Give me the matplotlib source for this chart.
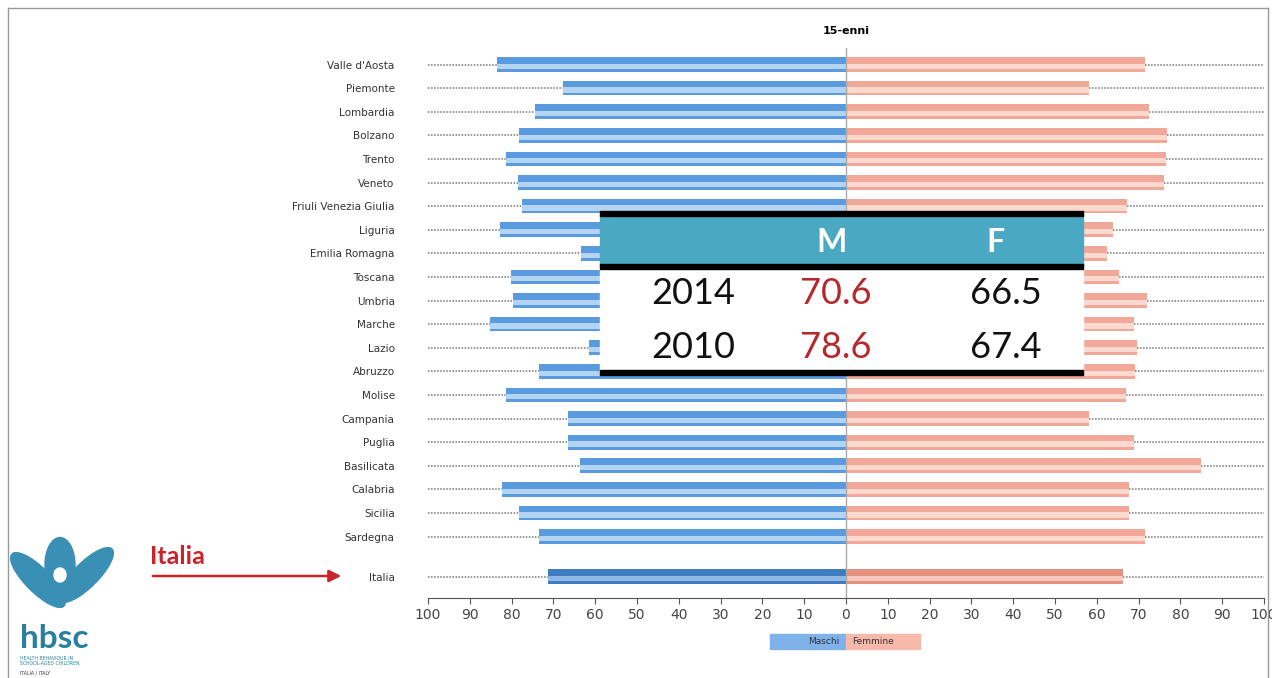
import matplotlib
matplotlib.use("Agg")
from matplotlib import pyplot as plt
from matplotlib.patches import Rectangle, Ellipse
import matplotlib.transforms as mtransforms

# dati
regioni = ["Valle d'Aosta", "Piemonte", "Lombardia", "Bolzano", "Trento", "Veneto",
           "Friuli Venezia Giulia", "Liguria", "Emilia Romagna", "Toscana", "Umbria",
           "Marche", "Lazio", "Abruzzo", "Molise", "Campania", "Puglia", "Basilicata",
           "Calabria", "Sicilia", "Sardegna", "Italia"]
maschi = [83.5, 67.7, 74.4, 78.3, 81.3, 78.4, 77.5, 82.8, 63.4, 80.1, 79.7,
          85.2, 61.5, 73.4, 81.3, 66.5, 66.5, 63.6, 82.3, 78.2, 73.4, 71.3]
femmine = [71.5, 58.1, 72.5, 76.8, 76.6, 76.1, 67.2, 63.9, 62.4, 65.3, 72.0,
           68.9, 69.6, 69.1, 67.0, 58.1, 68.9, 84.9, 67.7, 67.7, 71.5, 66.3]
posizioni = list(range(21)) + [21.7]
tick_x = list(range(-100, 101, 10))
tick_lab = [str(abs(v)) for v in tick_x]

tab_anni = ["2014", "2010"]
tab_m = ["70.6", "78.6"]
tab_f = ["66.5", "67.4"]

W, H = 1272, 678
def px(x, y):
    return x / W, 1 - y / H

fig = plt.figure(figsize=(W / 100, H / 100), dpi=100)
ax = fig.add_axes([428 / W, 80 / H, 836 / W, 550 / H])

for i, (y, m, f) in enumerate(zip(posizioni, maschi, femmine)):
    ita = regioni[i] == "Italia"
    cb, cbl = ("#3f7cc0", "#8fb8e6") if ita else ("#5a9be0", "#b4d4f4")
    cp, cpl = ("#e5917f", "#f6c8bb") if ita else ("#f2a898", "#fbd9cf")
    ax.barh(y, -m, height=0.62, color=cb, zorder=2)
    ax.barh(y + 0.08, -m, height=0.22, color=cbl, zorder=3)
    ax.barh(y, f, height=0.62, color=cp, zorder=2)
    ax.barh(y + 0.08, f, height=0.22, color=cpl, zorder=3)
    ax.plot([-100, -m], [y, y], color="#777777", lw=1.1, ls=(0, (1, 1)), zorder=1)
    ax.plot([f, 100], [y, y], color="#777777", lw=1.1, ls=(0, (1, 1)), zorder=1)

ax.axvline(0, color="#aaaaaa", lw=1, zorder=4)
ax.set_xlim(-100, 100)
ax.set_ylim(22.6, -0.7)
ax.set_xticks(tick_x)
ax.set_xticklabels(tick_lab, fontsize=10, color="#444444")
ax.set_yticks(posizioni)
ax.set_yticklabels(regioni, fontsize=7.5, color="#333333")
ax.tick_params(axis="y", length=0, pad=24)
ax.tick_params(axis="x", length=4, color="#555555", pad=3)
for s in ["top", "right", "left"]:
    ax.spines[s].set_visible(False)
ax.spines["bottom"].set_color("#555555")
ax.set_title("15-enni", fontsize=8, fontweight="bold", pad=10)

# legenda
tr = mtransforms.blended_transform_factory(ax.transData, ax.transAxes)
ax.add_patch(Rectangle((-18.2, -0.092), 18.2, 0.026, transform=tr, clip_on=False,
                       color="#7fb2ea"))
ax.add_patch(Rectangle((0, -0.092), 17.7, 0.026, transform=tr, clip_on=False,
                       color="#f6b9aa"))
ax.text(-1.5, -0.079, "Maschi", transform=tr, fontsize=6.5, ha="right", va="center",
        color="#333333")
ax.text(1.5, -0.079, "Femmine", transform=tr, fontsize=6.5, ha="left", va="center",
        color="#333333")

# tabella sovrapposta
x0, x1 = 600, 1083
def rett(xa, ya, xb, yb, col):
    a = px(xa, yb)
    fig.patches.append(Rectangle(a, (xb - xa) / W, (yb - ya) / H, color=col,
                                 transform=fig.transFigure, zorder=10))
rett(x0, 214, x1, 266, "#4aa8c2")
rett(x0, 266, x1, 372, "white")
rett(x0, 211, x1, 216, "black")
rett(x0, 264, x1, 269, "black")
rett(x0, 370, x1, 375, "black")
fig.text(*px(832, 242), "M", fontsize=23, fontweight="bold", color="white",
         ha="center", va="center", family="Lato", zorder=11)
fig.text(*px(995, 242), "F", fontsize=23, fontweight="bold", color="white",
         ha="center", va="center", family="Lato", zorder=11)
for k, yy in enumerate([294, 347]):
    fig.text(*px(693, yy), tab_anni[k], fontsize=26, color="#111111",
             ha="center", va="center", family="Lato", zorder=11)
    fig.text(*px(836, yy), tab_m[k], fontsize=26, color="#b5282b",
             ha="center", va="center", family="Lato", zorder=11)
    fig.text(*px(1006, yy), tab_f[k], fontsize=26, color="#111111",
             ha="center", va="center", family="Lato", zorder=11)

# freccia Italia
fig.text(*px(150, 557), "Italia", fontsize=18, fontweight="bold", color="#cc2229",
         ha="left", va="center", family="Lato")
fig.patches.append(matplotlib.patches.FancyArrowPatch(
    px(150, 576), px(344, 576), transform=fig.transFigure, arrowstyle="-|>",
    mutation_scale=18, color="#cc2229", lw=1.8))

# logo hbsc
for (cx, cy, w, h, ang) in [(38, 580, 30, 60, 25), (60, 565, 30, 55, 0),
                            (86, 575, 30, 60, -25)]:
    fig.patches.append(Ellipse(px(cx, cy), w / W, h / H, angle=ang,
                               color="#3a8fb5", transform=fig.transFigure))
fig.patches.append(Ellipse(px(60, 575), 12 / W, 14 / H, color="white",
                           transform=fig.transFigure))
fig.text(*px(20, 638), "hbsc", fontsize=24, fontweight="bold", color="#2a7f9e",
         ha="left", va="center", family="Lato")
fig.text(*px(20, 661), "HEALTH BEHAVIOUR IN\nSCHOOL-AGED CHILDREN", fontsize=3.3,
         color="#2a7f9e", ha="left", va="center", linespacing=1.1)
fig.text(*px(20, 673), "ITALIA / ITALY", fontsize=3.3, color="#333333",
         ha="left", va="center")

# bordo della slide
fig.add_artist(plt.Line2D([8 / W, 8 / W], [0, 1 - 8 / H], color="#999999", lw=1,
                          transform=fig.transFigure))
fig.add_artist(plt.Line2D([8 / W, 1268 / W], [1 - 8 / H, 1 - 8 / H], color="#999999",
                          lw=1, transform=fig.transFigure))
fig.add_artist(plt.Line2D([1268 / W, 1268 / W], [0, 1 - 8 / H], color="#999999",
                          lw=1, transform=fig.transFigure))

fig.savefig("out.png", dpi=100)
